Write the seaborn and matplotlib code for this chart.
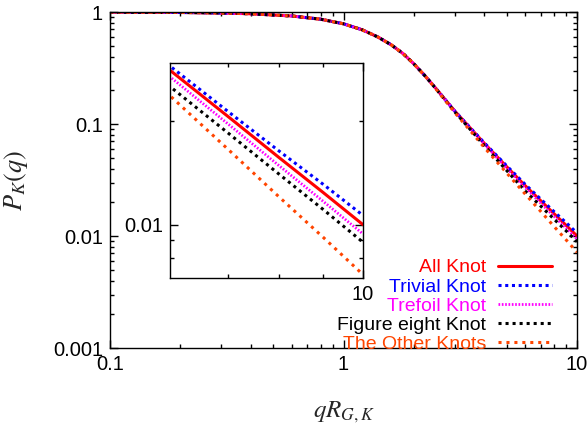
import numpy as np
import pandas as pd
import matplotlib
matplotlib.use("Agg")
import matplotlib.pyplot as plt
import seaborn as sns
from matplotlib.ticker import NullFormatter

# q R_G,K values (x) and P_K(q)
q = [0.1, 0.2, 0.3, 0.4, 0.6, 0.8, 1.0, 1.2, 1.4, 1.6, 1.8, 2.0, 2.25, 2.5,
     3.0, 3.5, 4.0, 5.0, 6.0, 7.0, 8.0, 9.0, 10.0]
all_knot = [0.998, 0.991, 0.980, 0.965, 0.922, 0.862, 0.785, 0.695, 0.60, 0.51, 0.425, 0.345, 0.265, 0.205,
            0.130, 0.0915, 0.0675, 0.0415, 0.0281, 0.0206, 0.0157, 0.0124, 0.0100]
trivial = [0.998, 0.991, 0.980, 0.965, 0.922, 0.862, 0.785, 0.695, 0.60, 0.51, 0.425, 0.345, 0.265, 0.205,
           0.130, 0.0920, 0.0682, 0.0423, 0.0289, 0.0213, 0.0164, 0.0131, 0.01064]
trefoil = [0.998, 0.991, 0.980, 0.965, 0.922, 0.862, 0.785, 0.695, 0.60, 0.51, 0.425, 0.345, 0.265, 0.205,
           0.1295, 0.0906, 0.0665, 0.0403, 0.0269, 0.0196, 0.01487, 0.01169, 0.0094]
fig_eight = [0.998, 0.991, 0.980, 0.965, 0.922, 0.862, 0.785, 0.695, 0.60, 0.51, 0.425, 0.345, 0.265, 0.204,
             0.128, 0.0888, 0.0645, 0.0384, 0.0252, 0.01845, 0.01405, 0.01107, 0.00889]
other = [0.998, 0.991, 0.980, 0.965, 0.922, 0.862, 0.785, 0.695, 0.60, 0.51, 0.425, 0.345, 0.264, 0.203,
         0.126, 0.0865, 0.0621, 0.0365, 0.0237, 0.01654, 0.01207, 0.00919, 0.00716]

names = ["All Knot", "Trivial Knot", "Trefoil Knot", "Figure eight Knot", "The Other Knots"]
colors = ["#ff0000", "#0000ff", "#ff00ff", "#000000", "#ff4500"]
styles = ["-", (0, (1, 1.2)), (0, (0.6, 0.6)), (0, (1, 1.3)), (0, (1, 1.6))]
widths = [2.2, 2.2, 2.0, 2.2, 2.2]
values = [all_knot, trivial, trefoil, fig_eight, other]

sns.set_style("ticks", {"xtick.direction": "in", "ytick.direction": "in"})
plt.rcParams["font.family"] = ["Liberation Sans", "DejaVu Sans"]
plt.rcParams["mathtext.fontset"] = "stix"

fig = plt.figure(figsize=(5.87, 4.28), dpi=100)
ax = fig.add_axes([0.1874, 0.1869, 0.7956, 0.785])
ins = fig.add_axes([0.2896, 0.3505, 0.3288, 0.5023])

for name, vals, c, ls, lw in zip(names, values, colors, styles, widths):
    df = pd.DataFrame({"q": q, "P": vals})
    sns.lineplot(data=df, x="q", y="P", ax=ax, color=c, linestyle=ls, lw=lw, label=name)
    sns.lineplot(data=df, x="q", y="P", ax=ins, color=c, linestyle=ls, lw=lw, legend=False)

fs = 14.5
for a in (ax, ins):
    a.set_xscale("log")
    a.set_yscale("log")
    a.tick_params(which="both", top=True, right=True, direction="in", width=1,
                  labelsize=fs, colors="black")
    a.tick_params(which="major", length=6, pad=5)
    a.tick_params(which="minor", length=3)
    for s in a.spines.values():
        s.set_linewidth(1)
        s.set_color("black")
    a.set_xlabel("")
    a.set_ylabel("")

ax.set_xlim(0.1, 10)
ax.set_ylim(0.001, 1)
ax.set_xticks([0.1, 1, 10])
ax.set_xticklabels(["0.1", "1", "10"])
ax.set_yticks([0.001, 0.01, 0.1, 1])
ax.set_yticklabels(["0.001", "0.01", "0.1", "1"])
ax.set_xticks([s * d for d in (0.1, 1) for s in range(2, 10)], minor=True)
ax.set_yticks([s * d for d in (0.001, 0.01, 0.1) for s in range(2, 10)], minor=True)
ax.xaxis.set_minor_formatter(NullFormatter())
ax.yaxis.set_minor_formatter(NullFormatter())

ins.set_xlim(6, 10)
ins.set_ylim(0.007, 0.0295)
ins.set_xticks([10])
ins.set_xticklabels(["10"])
ins.set_xticks([7, 8, 9], minor=True)
ins.set_yticks([0.01])
ins.set_yticklabels(["0.01"])
ins.set_yticks([0.008, 0.009, 0.02], minor=True)
ins.xaxis.set_minor_formatter(NullFormatter())
ins.yaxis.set_minor_formatter(NullFormatter())

ax.set_ylabel(r"$P_K(q)$", fontsize=19)
ax.set_xlabel(r"$qR_{G,K}$", fontsize=18)
ax.yaxis.set_label_coords(-0.171, 0.5)
ax.xaxis.set_label_coords(0.5, -0.155)

ax.legend(loc="lower right", bbox_to_anchor=(0.947, -0.015), frameon=False,
          markerfirst=False, labelcolor="linecolor", fontsize=14,
          handlelength=2.8, handletextpad=0.6, labelspacing=0.08,
          borderpad=0, borderaxespad=0)

fig.savefig("out.png", dpi=100)
